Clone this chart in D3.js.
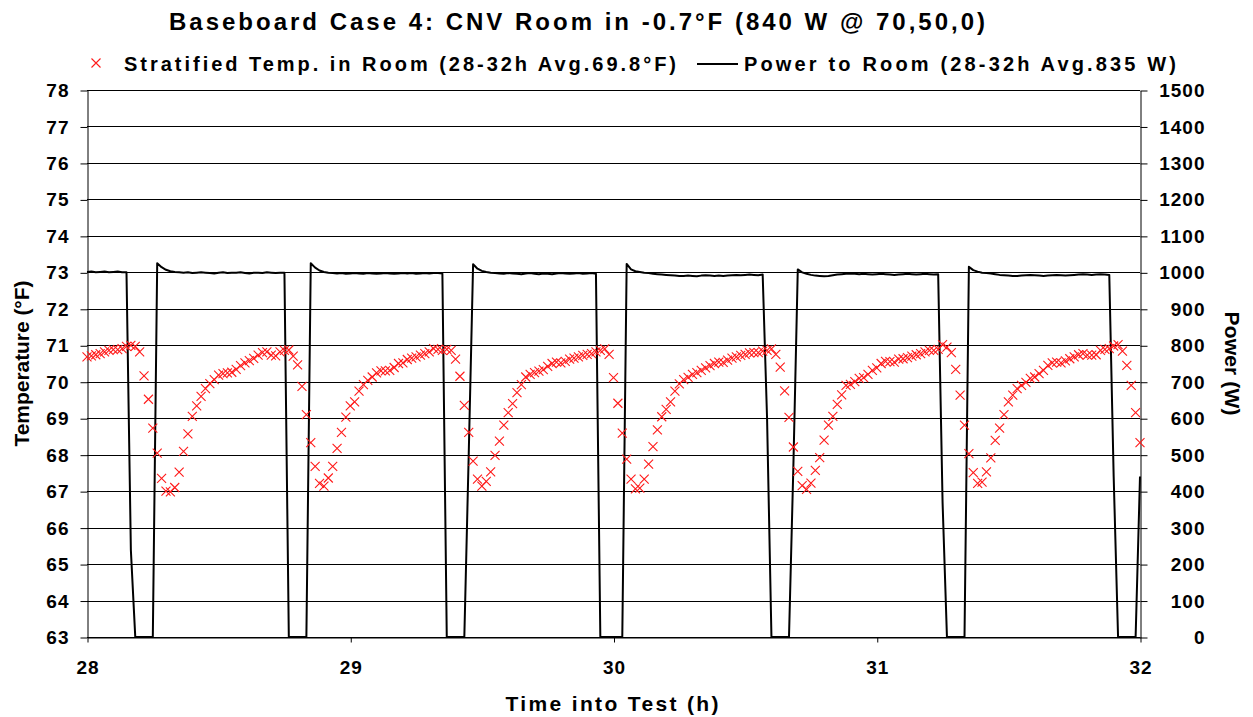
<!DOCTYPE html>
<html><head><meta charset="utf-8">
<script src="https://cdn.jsdelivr.net/npm/d3@7"></script>
<style>
body{margin:0;background:#fff}
text{font-family:Arial,"Liberation Sans",sans-serif;font-weight:bold;fill:#000}
</style>
</head><body>
<svg id="c" width="1253" height="717"></svg>
<script>
// ---- data (one sample per minute from 28.0 h to 32.0 h) ----
const startHour = 28;
const sampleMinutes = 1;
const tempValues = [
70.68,70.71,70.74,70.77,70.82,70.86,70.88,70.88,70.91,70.97,
71.00,70.97,70.82,70.16,69.52,68.73,68.04,67.35,67.00,66.98,
67.10,67.52,68.09,68.57,69.05,69.34,69.60,69.81,69.95,70.06,
70.18,70.22,70.24,70.26,70.34,70.44,70.52,70.58,70.64,70.73,
70.80,70.82,70.73,70.71,70.82,70.86,70.87,70.70,70.46,69.87,
69.10,68.33,67.68,67.21,67.14,67.36,67.68,68.17,68.61,69.03,
69.34,69.45,69.74,69.92,70.04,70.13,70.24,70.30,70.30,70.31,
70.39,70.50,70.52,70.61,70.65,70.68,70.73,70.77,70.82,70.91,
70.89,70.86,70.89,70.86,70.62,70.15,69.35,68.61,67.82,67.33,
67.14,67.27,67.53,67.98,68.37,68.81,69.15,69.40,69.70,69.92,
70.13,70.20,70.25,70.29,70.33,70.42,70.50,70.54,70.52,70.56,
70.62,70.65,70.68,70.72,70.75,70.77,70.82,70.86,70.90,70.75,
70.11,69.41,68.59,67.88,67.33,67.06,67.08,67.33,67.74,68.22,
68.68,69.04,69.24,69.45,69.74,69.94,70.06,70.12,70.20,70.25,
70.31,70.38,70.44,70.50,70.54,70.53,70.59,70.65,70.68,70.72,
70.75,70.79,70.80,70.80,70.84,70.86,70.90,70.75,70.40,69.75,
69.02,68.21,67.54,67.15,67.05,67.22,67.57,67.92,68.40,68.81,
69.05,69.38,69.64,69.90,69.93,70.00,70.09,70.11,70.20,70.31,
70.38,70.50,70.56,70.55,70.54,70.62,70.63,70.66,70.70,70.74,
70.77,70.82,70.86,70.86,70.89,71.02,70.95,70.80,70.34,69.63,
68.81,68.03,67.51,67.21,67.25,67.53,67.91,68.39,68.73,69.10,
69.45,69.63,69.81,69.90,69.98,70.09,70.13,70.22,70.31,70.45,
70.52,70.54,70.52,70.57,70.63,70.68,70.74,70.77,70.73,70.73,
70.74,70.86,70.89,70.91,70.98,71.02,70.84,70.45,69.90,69.15,
68.33
];
const powerValues = [
1001,1002,1000,1001,1002,1000,1001,1002,1000,1000,
238,0,0,0,0,0,1025,1014,1007,1003,
1001,1000,999,1000,998,999,1000,999,998,997,
999,1000,998,999,999,1000,998,997,999,999,
998,1000,999,998,999,999,0,0,0,0,
0,1025,1013,1005,1001,999,998,997,998,996,
997,998,997,996,998,997,996,997,998,997,
996,997,998,997,998,996,997,998,997,998,
998,997,0,0,0,0,0,500,1022,1010,
1004,1001,999,998,997,996,998,997,996,995,
997,998,996,995,997,996,995,997,998,997,
996,997,998,996,997,998,996,0,0,0,
0,0,0,1023,1008,1003,1001,999,998,996,
995,994,993,992,991,990,990,991,990,989,
991,992,991,990,991,990,991,992,993,992,
993,994,993,992,994,600,0,0,0,0,
0,470,1008,1000,996,993,991,990,989,990,
992,994,995,996,997,996,995,996,995,994,
995,996,995,994,993,994,995,996,995,994,
995,996,995,994,995,370,0,0,0,0,
0,1015,1006,1002,999,998,997,995,993,992,
991,990,990,991,992,993,992,991,990,991,
992,993,992,991,992,993,994,995,994,993,
994,995,994,993,440,0,0,0,0,0,
440
];
const xTicks = [28,29,30,31,32];
const tempTicks = [63,64,65,66,67,68,69,70,71,72,73,74,75,76,77,78];
const powerTicks = [0,100,200,300,400,500,600,700,800,900,1000,1100,1200,1300,1400,1500];
const titleText = "Baseboard Case 4: CNV Room in -0.7°F (840 W @ 70,50,0)";
const legendTemp = "Stratified Temp. in Room (28-32h Avg.69.8°F)";
const legendPower = "Power to Room (28-32h Avg.835 W)";
const xTitle = "Time into Test (h)";
const yLeftTitle = "Temperature (°F)";
const yRightTitle = "Power (W)";

// ---- layout ----
const L = 87, R = 1140, T = 90, B = 637;
const svg = d3.select("#c");
const x = d3.scaleLinear().domain([28,32]).range([L,R]);
const yT = d3.scaleLinear().domain([63,78]).range([B,T]);
const yP = d3.scaleLinear().domain([0,1500]).range([B,T]);
const hour = i => startHour + i*sampleMinutes/60;

// gridlines
svg.append("g").selectAll("line").data(tempTicks).join("line")
  .attr("x1",L).attr("x2",R)
  .attr("y1",d=>Math.round(yT(d))+0.5).attr("y2",d=>Math.round(yT(d))+0.5)
  .attr("stroke","#000").attr("stroke-width",1);

// axes
const fs = "19px";
const gl = svg.append("g").attr("transform",`translate(${L+0.5},0.5)`)
  .call(d3.axisLeft(yT).tickValues(tempTicks).tickSize(7).tickSizeOuter(0).tickPadding(11).tickFormat(d3.format("d")));
const gr = svg.append("g").attr("transform",`translate(${R+0.5},0.5)`)
  .call(d3.axisRight(yP).tickValues(powerTicks).tickSize(7).tickSizeOuter(0).tickFormat(d3.format("d")));
gr.selectAll("text").attr("text-anchor","end").attr("x",65);
const gb = svg.append("g").attr("transform",`translate(0.5,${B+0.5})`)
  .call(d3.axisBottom(x).tickValues(xTicks).tickSize(5).tickSizeOuter(0).tickFormat(d3.format("d")));
gb.selectAll("text").attr("y",36).attr("dy",0);
[gl,gr,gb].forEach(g=>{
  g.selectAll("text").style("font-size",fs).style("font-family",'Arial,"Liberation Sans",sans-serif')
   .style("font-weight","bold").attr("fill","#000").style("letter-spacing","1px");
  g.selectAll("path,line").attr("stroke","#000").attr("stroke-width",1);
});

// power line
svg.append("path").datum(powerValues)
  .attr("fill","none").attr("stroke","#000").attr("stroke-width",2).attr("stroke-linejoin","round")
  .attr("d", d3.line().x((d,i)=>x(hour(i))).y(d=>yP(d)));

// temperature markers
const cross = "M-4.5,-4.5L4.5,4.5M-4.5,4.5L4.5,-4.5";
svg.append("g").selectAll("path").data(tempValues).join("path")
  .attr("d",cross)
  .attr("transform",(d,i)=>`translate(${x(hour(i))},${yT(d)})`)
  .attr("fill","none").attr("stroke","#ff1a1a").attr("stroke-width",1.1);

// title
svg.append("text").attr("x",169).attr("y",30).style("font-size","24px")
  .attr("textLength",816).attr("lengthAdjust","spacing").text(titleText);

// legend
svg.append("path").attr("d",cross).attr("transform","translate(96,63)")
  .attr("fill","none").attr("stroke","#ff1a1a").attr("stroke-width",1.1);
svg.append("text").attr("x",124).attr("y",71).style("font-size","20px")
  .attr("textLength",552).attr("lengthAdjust","spacing").text(legendTemp);
svg.append("line").attr("x1",697).attr("x2",738).attr("y1",64).attr("y2",64)
  .attr("stroke","#000").attr("stroke-width",2);
svg.append("text").attr("x",744).attr("y",71).style("font-size","20px")
  .attr("textLength",432).attr("lengthAdjust","spacing").text(legendPower);

// axis titles
svg.append("text").attr("x",612).attr("y",711).attr("text-anchor","middle").style("font-size","21px")
  .attr("textLength",213).attr("lengthAdjust","spacing").text(xTitle);
svg.append("text").attr("transform",`translate(29,${(T+B)/2}) rotate(-90)`).attr("text-anchor","middle")
  .style("font-size","21px").attr("textLength",166).attr("lengthAdjust","spacing").text(yLeftTitle);
svg.append("text").attr("transform",`translate(1225,${(T+B)/2}) rotate(90)`).attr("text-anchor","middle")
  .style("font-size","21px").attr("textLength",104).attr("lengthAdjust","spacing").text(yRightTitle);
</script>
</body></html>
